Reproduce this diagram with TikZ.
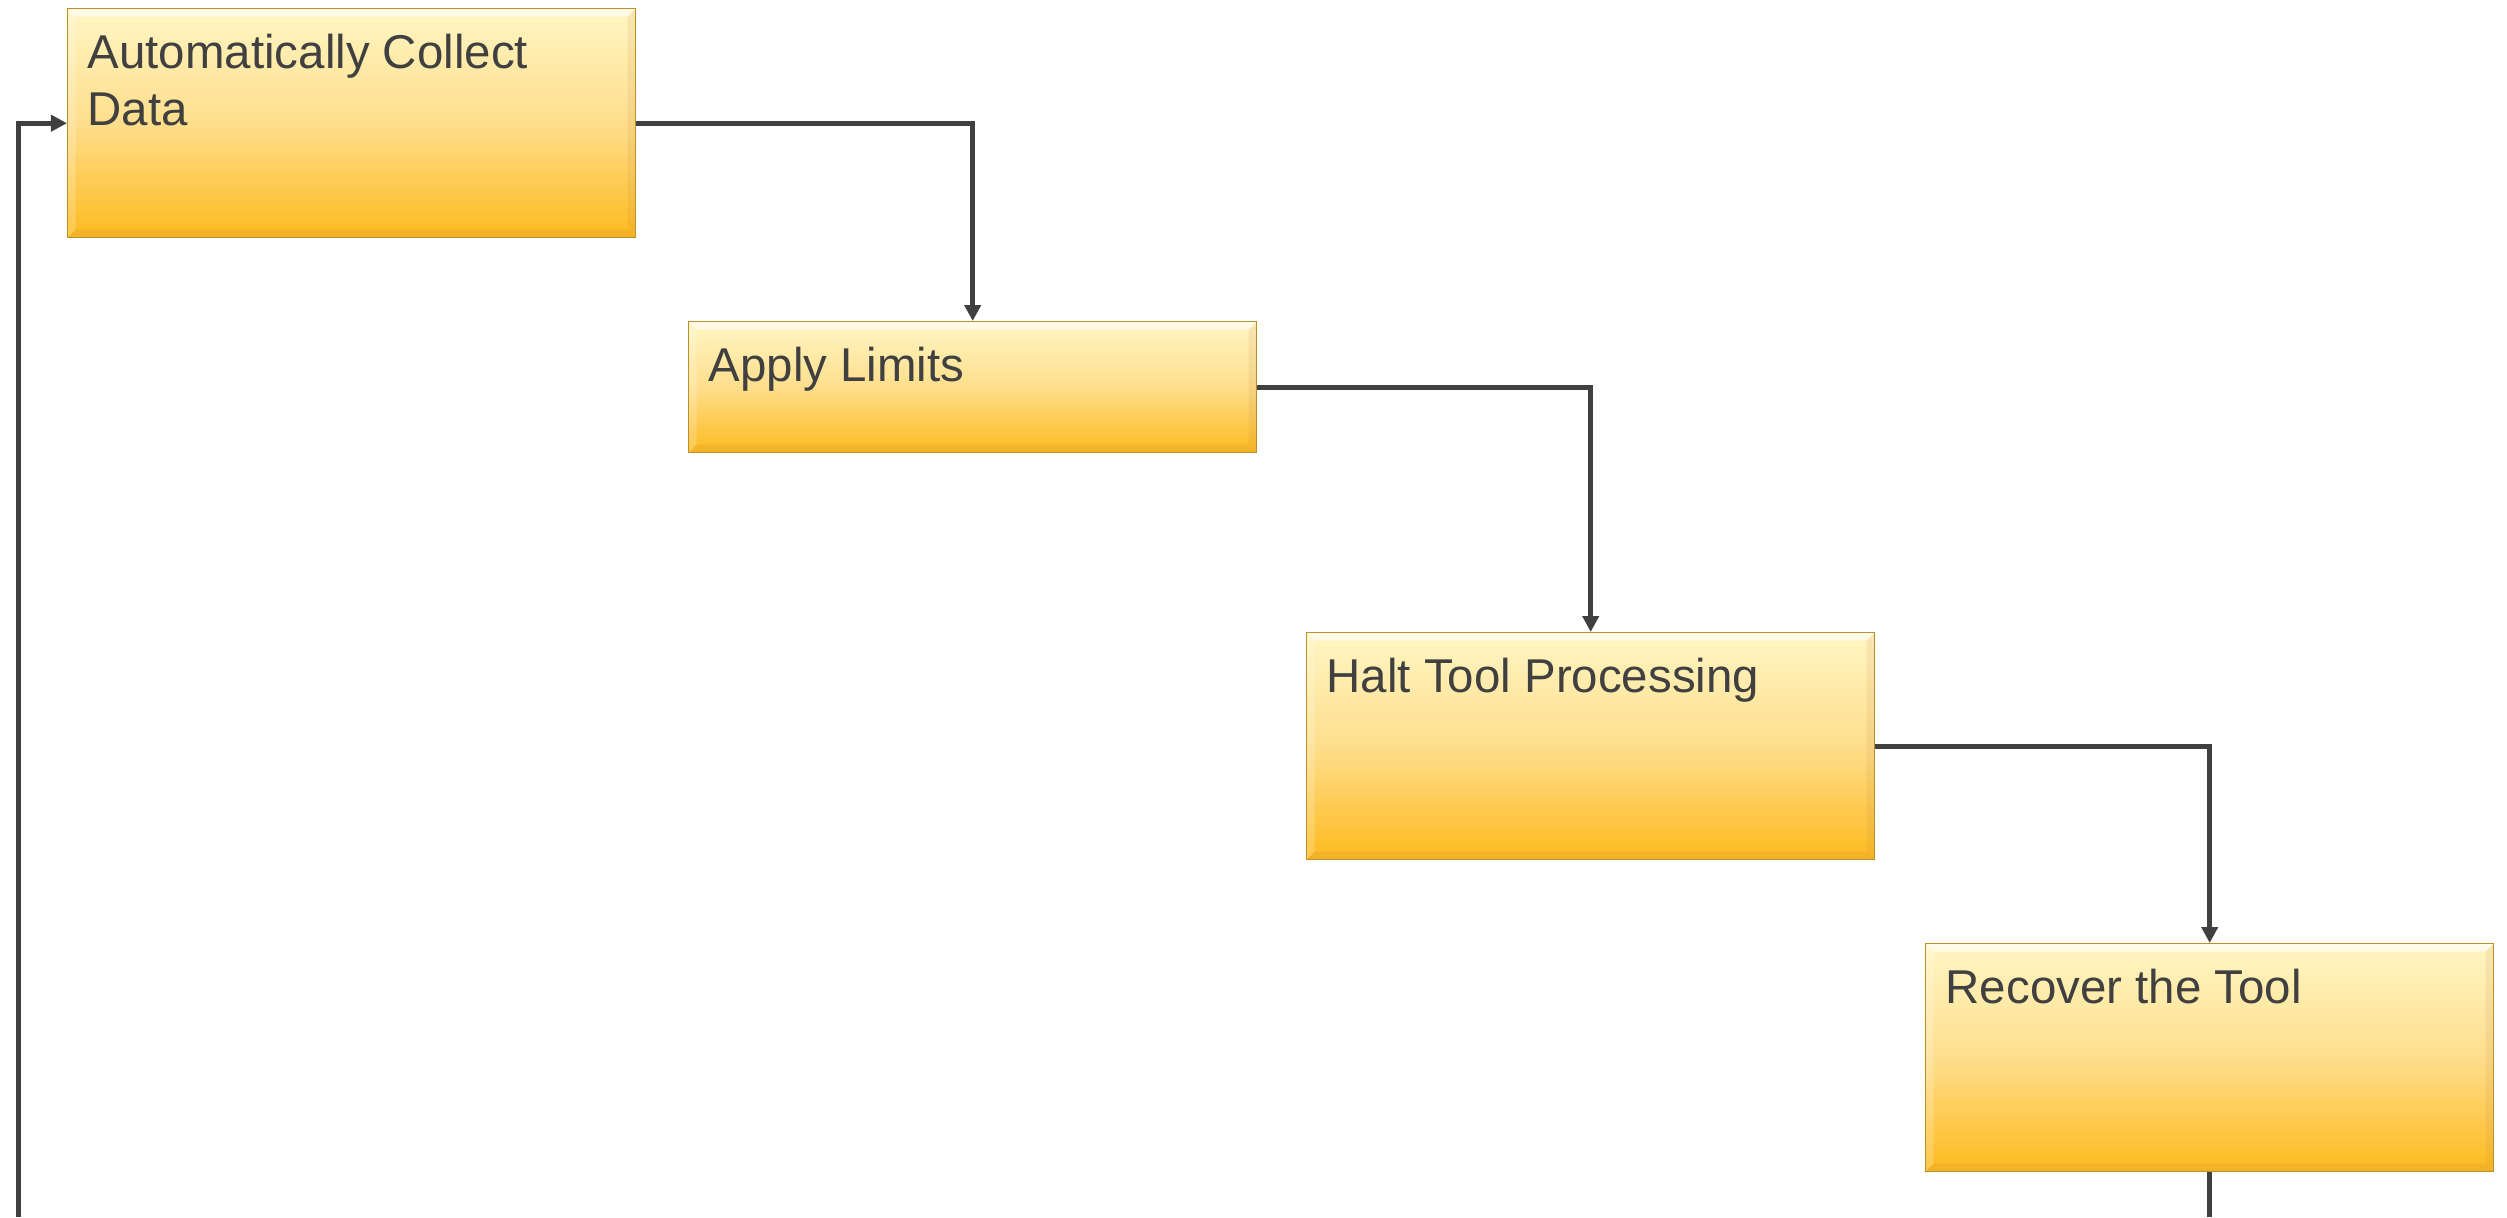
\documentclass[tikz,border=0pt]{standalone}
\usepackage{fontspec}
\setmainfont{Liberation Sans}
\usetikzlibrary{arrows.meta}

\definecolor{boxtop}{HTML}{FFF6C4}
\definecolor{boxmid}{HTML}{FEDE8C}
\definecolor{boxbottom}{HTML}{FDBA1E}
\definecolor{boxedge}{HTML}{B8902E}
\definecolor{linegray}{HTML}{404040}

% top aligned text block inside a step box
\newcommand{\steptext}[2]{\parbox[t][#1][t]{5.28cm}{\raggedright #2}}

\tikzset{
    stepbox/.style={draw=boxedge, line width=0.4pt, anchor=north west,
        top color=boxtop, bottom color=boxbottom, middle color=boxmid,
        minimum width=5.68cm, inner xsep=0.2cm, inner ysep=0.25cm,
        text=linegray, font=\fontsize{13.5}{16.2}\selectfont,
        path picture={
            % bevel: light top edge, dark bottom and right edge
            \fill[white, opacity=0.6] (path picture bounding box.north west)
                -- (path picture bounding box.north east)
                -- ([shift={(-0.08,-0.08)}]path picture bounding box.north east)
                -- ([shift={(0.08,-0.08)}]path picture bounding box.north west) -- cycle;
            \fill[brown, opacity=0.15] (path picture bounding box.south west)
                -- (path picture bounding box.south east)
                -- ([shift={(-0.08,0.08)}]path picture bounding box.south east)
                -- ([shift={(0.08,0.08)}]path picture bounding box.south west) -- cycle;
            \fill[brown, opacity=0.12] (path picture bounding box.north east)
                -- (path picture bounding box.south east)
                -- ([shift={(-0.08,0.08)}]path picture bounding box.south east)
                -- ([shift={(-0.08,-0.08)}]path picture bounding box.north east) -- cycle;
            \fill[white, opacity=0.2] (path picture bounding box.north west)
                -- (path picture bounding box.south west)
                -- ([shift={(0.08,0.08)}]path picture bounding box.south west)
                -- ([shift={(0.08,-0.08)}]path picture bounding box.north west) -- cycle;
        }},
    flow/.style={draw=linegray, line width=1.4pt,
        -{Triangle[length=0.16cm, width=0.16cm]}},
    loopline/.style={draw=linegray, line width=1.4pt}
}

\begin{document}
\begin{tikzpicture}
    \useasboundingbox (0,0) rectangle (25.07,-12.17);

    % the four steps
    \node[stepbox] (collect) at (0.67,-0.08) {\steptext{1.79cm}{Automatically Collect\\Data}};
    \node[stepbox] (apply) at (6.88,-3.21) {\steptext{0.81cm}{Apply Limits}};
    \node[stepbox] (halt) at (13.06,-6.32) {\steptext{1.77cm}{Halt Tool Processing}};
    \node[stepbox] (recover) at (19.25,-9.43) {\steptext{1.78cm}{Recover the Tool}};

    % ends of the return loop at the lower edge
    \coordinate (loopout) at (recover.south |- 0,-12.17);
    \coordinate (loopin) at (0.185,-12.17);

    % connectors
    \draw[flow] (collect.east) -| (apply.north);
    \draw[flow] (apply.east) -| (halt.north);
    \draw[flow] (halt.east) -| (recover.north);
    \draw[loopline] (recover.south) -- (loopout);
    \draw[flow] (loopin) |- (collect.west);
\end{tikzpicture}
\end{document}
